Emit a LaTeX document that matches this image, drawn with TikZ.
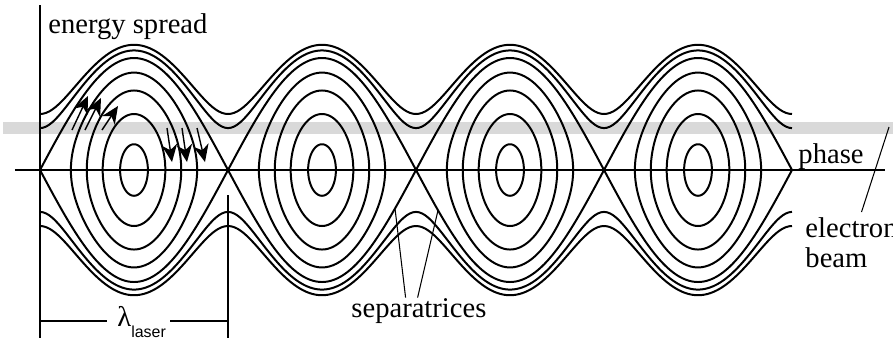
\documentclass[tikz,border=0pt]{standalone}
\usepackage{fontspec}
\setmainfont{Liberation Serif}
\setsansfont{Liberation Sans}
\usetikzlibrary{positioning,arrows.meta}

\begin{document}
\begin{tikzpicture}[
  x=0.15mm, y=0.15mm,
  orbit/.style={line width=0.85pt},
  axis/.style={line width=0.55pt},
  ptr/.style={line width=0.45pt},
  lbl/.style={inner sep=0pt, font=\fontsize{12.2pt}{14pt}\selectfont},
  flow/.style={line width=0.6pt, -{Stealth[length=2.6mm, width=2.3mm, inset=0.8mm]}}]
  \useasboundingbox (-40,-171) rectangle (853,170);
  % electron beam band
  \fill[gray!30] (-37,36) rectangle (853,48);
  % axes
  \draw[axis] (-25,0) -- (845,0);
  \draw[axis] (0,165) -- (0,-168);
  % buckets: separatrix + trapped orbits (188 px per 360 deg)
  \foreach \c in {94,282,470,658}{
    \draw[orbit] plot[domain=-180:180, samples=61] ({\c+\x*0.52222},{112*cos(\x/2)})
      -- plot[domain=180:-180, samples=61] ({\c+\x*0.52222},{-112*cos(\x/2)});
    \foreach \k in {0.23,0.5,0.71,0.87}
      \draw[orbit] plot[domain=0:360, samples=91, smooth] ({\c+2*asin(\k*sin(\x))*0.52222},{112*\k*cos(\x)}) -- cycle;
  }
  % untrapped orbits
  \foreach \e in {1.5,1.28}{
    \draw[orbit] plot[domain=-180:1260, samples=241, smooth] ({94+\x*0.52222},{56*sqrt(2*(\e+cos(\x)))});
    \draw[orbit] plot[domain=-180:1260, samples=241, smooth] ({94+\x*0.52222},{-56*sqrt(2*(\e+cos(\x)))});
  }
  % particle motion
  \foreach \a/\b/\p/\q in {32/40/48/74, 45/40/61/72, 62/40/78/64,
                           127/42/132/8, 142/42/147/8, 157/42/165/8}
    \draw[flow] (\a,\b) -- (\p,\q);
  % labels
  \node[lbl, anchor=base west] (es) at (8,137) {energy spread};
  \node[lbl, anchor=base west] (ph) at (758,7) {phase};
  \node[lbl, anchor=base west] (el) at (765,-67) {electron};
  \node[lbl, anchor=base west] (bm) at (765,-97) {beam};
  \node[lbl, anchor=base west] (sp) at (311,-147) {separatrices};
  \coordinate (s1) at (355,-38.5);
  \coordinate (s2) at (398,-40.3);
  \coordinate (bt) at (849,43);
  \draw[ptr] ([xshift=-2mm]sp.north) -- (s1);
  \draw[ptr] ([xshift=-0.2mm]sp.north) -- (s2);
  \draw[ptr] ([xshift=1.5mm,yshift=0.7mm]el.north) -- (bt);
  % laser wavelength
  \coordinate (d0) at (0,-151);
  \coordinate (d1) at (188,-151);
  \coordinate (t1) at (188,-25);
  \coordinate (t2) at (188,-168);
  \draw[axis] (t1) -- (t2);
  \node[lbl, anchor=base west] (lam) at (77,-156)
    {λ\raisebox{-5pt}{\sffamily\fontsize{6.8pt}{8pt}\selectfont laser}};
  \draw[axis] (d0) -- ([xshift=-1.5mm]lam.west |- d0);
  \draw[axis] ([xshift=0.6mm]lam.east |- d1) -- (d1);
\end{tikzpicture}
\end{document}
